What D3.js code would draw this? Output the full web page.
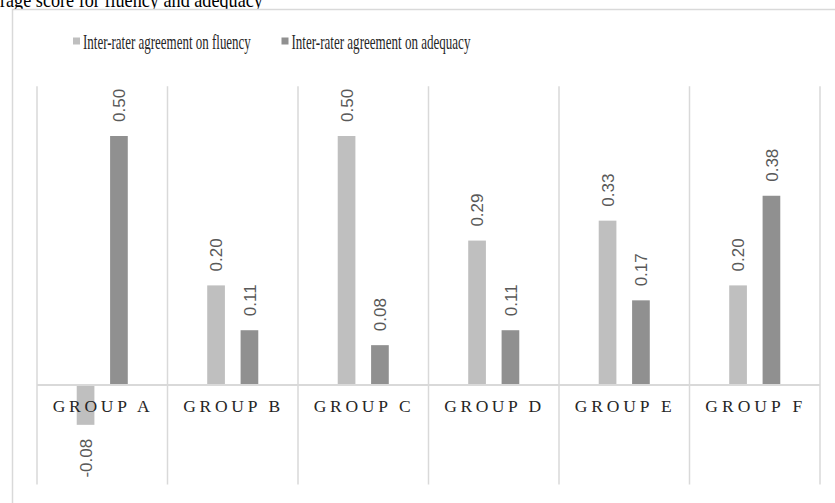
<!DOCTYPE html>
<html lang="en">
<head>
  <meta charset="UTF-8">
  <title>Inter-rater agreement</title>
  <script src="https://d3js.org/d3.v7.min.js"></script>
  <style>
    body {
      margin: 0;
      background: #fff;
    }
    svg {
      display: block;
    }
  </style>
</head>
<body>
<svg width="835" height="503"></svg>

<script>
  // chart data
  const groups = ["GROUP A", "GROUP B", "GROUP C", "GROUP D", "GROUP E", "GROUP F"];
  const seriesNames = ["Inter-rater agreement on fluency", "Inter-rater agreement on adequacy"];
  const fluency = [-0.08, 0.20, 0.50, 0.29, 0.33, 0.20];
  const adequacy = [0.50, 0.11, 0.08, 0.11, 0.17, 0.38];
  const yDomain = [-0.2, 0.6];

  const colors = ["#bfbfbf", "#909090"];
  const grid = "#d9d9d9";
  const serif = "'Liberation Serif', 'Times New Roman', serif";

  const svg = d3.select("svg");

  // squeeze a text horizontally so it spans the given width
  function squeeze(sel, x, y, w) {
    sel.each(function(d, i) {
      const t = d3.select(this);
      const natural = this.getComputedTextLength();
      const ww = typeof w === "function" ? w(d, i) : w;
      const xx = typeof x === "function" ? x(d, i) : x;
      t.attr("transform", `translate(${xx},${y}) scale(${ww / natural},1)`);
    });
  }

  // clipped caption above the chart box
  svg.append("text")
    .attr("font-family", serif)
    .attr("font-size", 22)
    .attr("fill", "#000")
    .text("rage score for fluency and adequacy")
    .call(squeeze, 0, 7, 263);

  // chart border (right / bottom sides fall outside the picture)
  svg.append("rect")
    .attr("x", 12.5)
    .attr("y", 9.5)
    .attr("width", 840)
    .attr("height", 510)
    .attr("fill", "#fff")
    .attr("stroke", grid)
    .attr("stroke-width", 1.5);

  const x0 = d3.scaleBand()
    .domain(groups)
    .range([37, 820]);

  const x1 = d3.scaleBand()
    .domain(seriesNames)
    .range([0, x0.bandwidth()])
    .paddingInner(0.47)
    .paddingOuter(1.19);

  const y = d3.scaleLinear()
    .domain(yDomain)
    .range([484.6, 86.2]);

  // vertical category separators
  const bounds = groups.map(g => x0(g)).concat([x0.range()[1]]);
  svg.append("g")
    .selectAll("line")
    .data(bounds)
    .join("line")
    .attr("x1", d => d)
    .attr("x2", d => d)
    .attr("y1", y(yDomain[1]))
    .attr("y2", y(yDomain[0]))
    .attr("stroke", grid)
    .attr("stroke-width", 1.5);

  const rows = groups.map((g, i) => ({
    group: g,
    values: [
      {series: seriesNames[0], value: fluency[i], color: colors[0]},
      {series: seriesNames[1], value: adequacy[i], color: colors[1]}
    ]
  }));

  const gGroup = svg.append("g")
    .selectAll("g")
    .data(rows)
    .join("g")
    .attr("transform", d => `translate(${x0(d.group)},0)`);

  gGroup.selectAll("rect")
    .data(d => d.values)
    .join("rect")
    .attr("x", d => x1(d.series))
    .attr("width", x1.bandwidth())
    .attr("y", d => y(Math.max(0, d.value)))
    .attr("height", d => Math.abs(y(d.value) - y(0)))
    .attr("fill", d => d.color);

  // rotated value labels
  gGroup.selectAll("text.val")
    .data(d => d.values)
    .join("text")
    .attr("class", "val")
    .attr("transform", d => {
      const cx = x1(d.series) + x1.bandwidth() / 2;
      const cy = d.value >= 0 ? y(d.value) - 14 : y(d.value) + 14;
      return `translate(${cx},${cy}) rotate(-90)`;
    })
    .attr("dy", "0.36em")
    .attr("text-anchor", d => d.value >= 0 ? "start" : "end")
    .attr("font-family", "'Liberation Sans', Arial, sans-serif")
    .attr("font-size", 17)
    .attr("fill", "#595959")
    .text(d => d.value.toFixed(2));

  // zero line
  svg.append("line")
    .attr("x1", x0.range()[0])
    .attr("x2", x0.range()[1])
    .attr("y1", y(0))
    .attr("y2", y(0))
    .attr("stroke", grid)
    .attr("stroke-width", 2);

  // category labels
  svg.append("g")
    .selectAll("text")
    .data(groups)
    .join("text")
    .attr("x", d => x0(d) + x0.bandwidth() / 2 - 1)
    .attr("y", 411.7)
    .attr("text-anchor", "middle")
    .attr("font-family", serif)
    .attr("font-size", 17.5)
    .attr("fill", "#262626")
    .attr("textLength", 97)
    .attr("lengthAdjust", "spacing")
    .text(d => d);

  // legend
  const legendX = [73, 281.5];
  const legendW = [168, 179];
  const legend = svg.append("g")
    .selectAll("g")
    .data(seriesNames)
    .join("g");

  legend.append("rect")
    .attr("x", (d, i) => legendX[i])
    .attr("y", 37.5)
    .attr("width", 7)
    .attr("height", 7)
    .attr("fill", (d, i) => colors[i]);

  legend.append("text")
    .attr("font-family", serif)
    .attr("font-size", 20)
    .attr("fill", "#262626")
    .text(d => d)
    .call(squeeze, (d, i) => legendX[i] + 10, 48.5, (d, i) => legendW[i]);
</script>
</body>
</html>
